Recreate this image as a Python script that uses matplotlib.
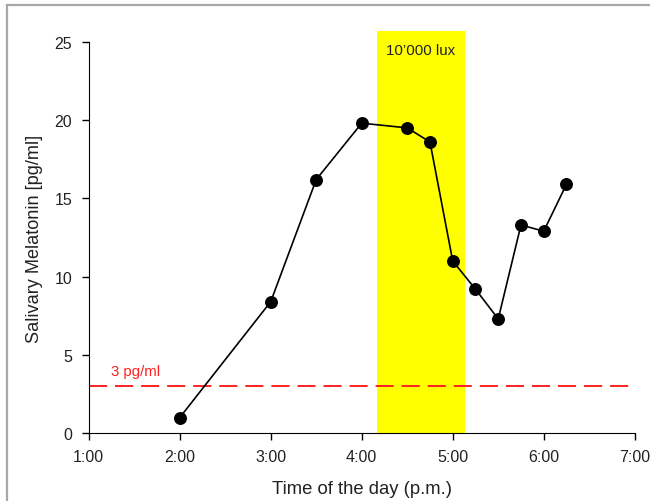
import matplotlib.pyplot as plt
from matplotlib.lines import Line2D

plt.rcParams['font.family'] = ['Liberation Sans', 'DejaVu Sans']

# time in hours (p.m.)
times = [2.0, 3.0, 3.5, 4.0, 4.5, 4.75, 5.0, 5.25, 5.5, 5.75, 6.0, 6.25]
melatonin = [1.0, 8.4, 16.2, 19.8, 19.5, 18.6, 11.0, 9.2, 7.3, 13.3, 12.9, 15.9]

x_ticks = [1, 2, 3, 4, 5, 6, 7]
x_ticklabels = ['1:00', '2:00', '3:00', '4:00', '5:00', '6:00', '7:00']
y_ticks = [0, 5, 10, 15, 20, 25]

light_start, light_end = 4.165, 5.138
threshold = 3

fig = plt.figure(figsize=(6.5, 5.02), dpi=100)
ax = fig.add_axes([0.1365, 0.1349, 0.84, 0.780])

# light exposure box, sticks out a bit above the axis
ax.fill_between([light_start, light_end], 0, 25.7, color='#ffff00', zorder=1,
                linewidth=0, clip_on=False)
ax.text((light_start + light_end) / 2, 24.45, "10\u2019000 lux", ha='center', va='center',
        fontsize=10.8, color='#222222', zorder=3)

ax.axhline(threshold, color='#ff2020', linestyle=(0, (9.3, 4.1)), linewidth=1.4, zorder=2)
ax.text(1.25, 4.0, '3 pg/ml', color='#ff2020', fontsize=10.8, va='center')

ax.plot(times, melatonin, color='black', linewidth=1.2, marker='o', markersize=8.3,
        zorder=4, clip_on=False)

ax.set_xlim(1, 7)
ax.set_ylim(0, 25)
ax.set_xticks(x_ticks)
ax.set_xticklabels(x_ticklabels, fontsize=11.5)
ax.set_yticks(y_ticks)
ax.tick_params(axis='y', labelsize=11.5, pad=7)
ax.tick_params(axis='x', pad=6)
ax.tick_params(direction='out', length=5, width=1, labelcolor='#222222')
ax.spines['top'].set_visible(False)
ax.spines['right'].set_visible(False)
ax.set_xlabel('Time of the day (p.m.)', fontsize=13.3, labelpad=12, color='#222222')
ax.set_ylabel('Salivary Melatonin [pg/ml]', fontsize=13.1, labelpad=8, color='#222222')

# grey frame of the original screenshot (top and left only)
fig.add_artist(Line2D([7 / 650, 1], [1 - 6 / 502, 1 - 6 / 502], color='#a8a8a8', linewidth=1.6))
fig.add_artist(Line2D([7 / 650, 7 / 650], [0, 1 - 6 / 502], color='#a8a8a8', linewidth=1.6))

fig.savefig('out.png', dpi=100)
